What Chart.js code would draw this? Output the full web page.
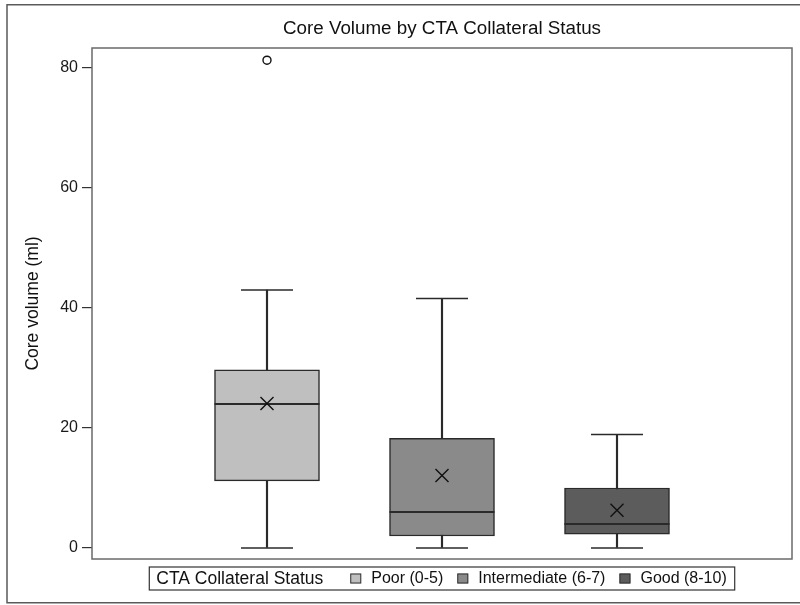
<!DOCTYPE html>
<html>
<head>
<meta charset="utf-8">
<style>
  html, body { margin: 0; padding: 0; background: #ffffff; }
  #wrap { width: 800px; height: 605px; }
</style>
<script src="https://cdn.jsdelivr.net/npm/chart.js@4/dist/chart.umd.min.js"></script>
</head>
<body>
<div id="wrap"><canvas id="c" width="800" height="605"></canvas></div>
<script>
// ---- Data ----
const chartTitle = 'Core Volume by CTA Collateral Status';
const yTitle = 'Core volume (ml)';
const legendTitle = 'CTA Collateral Status';
const categories = ['Poor (0-5)', 'Intermediate (6-7)', 'Good (8-10)'];
const xPositions = [1, 2, 3];
const whiskerLow = [0, 0, 0];
const q1Values = [11.2, 2.0, 2.3];
const medianValues = [24.0, 6.0, 4.0];
const q3Values = [29.7, 18.3, 10.0];
const whiskerHigh = [43.0, 41.6, 18.9];
const meanValues = [24.1, 12.1, 6.3];
const outlierValues = [[81.3], [], []];
const yTicks = [0, 20, 40, 60, 80];
const yMin = -1.83;
const yMax = 83.33;

// ---- Styles ----
const FONT = '"Liberation Sans", Arial, Helvetica, sans-serif';
const boxColors = ['#bfbfbf', '#8a8a8a', '#5c5c5c'];
const ink = '#2a2a2a';

Chart.defaults.font.family = FONT;
Chart.defaults.color = '#1a1a1a';

const frames = {
  id: 'frames',
  beforeDraw(chart) {
    const ctx = chart.ctx;
    ctx.save();
    ctx.strokeStyle = '#5a5a5a';
    ctx.lineWidth = 1.5;
    ctx.strokeRect(7, 4.75, chart.width + 10, 598);
    ctx.restore();
  },
  afterDraw(chart) {
    const ctx = chart.ctx;
    const a = chart.chartArea;
    ctx.save();
    ctx.strokeStyle = '#6a6a6a';
    ctx.lineWidth = 1.5;
    ctx.strokeRect(a.left, a.top, a.right - a.left, a.bottom - a.top);
    ctx.restore();
  }
};

const boxLegend = {
  id: 'boxLegend',
  afterDraw(chart) {
    const ctx = chart.ctx;
    const a = chart.chartArea;
    const titleFont = '17.5px ' + FONT;
    const itemFont = '16px ' + FONT;
    const padL = 7, padR = 8, titleGap = 27, sw = 11, swGap = 10, itemGap = 14, h = 23;
    ctx.save();
    ctx.font = titleFont;
    const tw = ctx.measureText(legendTitle).width;
    ctx.font = itemFont;
    const iw = categories.map(c => ctx.measureText(c).width);
    let total = padL + tw + titleGap + padR;
    iw.forEach((w, i) => { total += sw + swGap + w + (i < iw.length - 1 ? itemGap : 0); });
    const left = (a.left + a.right) / 2 - total / 2;
    const top = a.bottom + 8;
    const cy = top + h / 2;
    ctx.fillStyle = '#ffffff';
    ctx.fillRect(left, top, total, h);
    ctx.strokeStyle = '#333333';
    ctx.lineWidth = 1.2;
    ctx.strokeRect(left, top, total, h);
    ctx.textBaseline = 'middle';
    ctx.textAlign = 'left';
    ctx.fillStyle = '#111111';
    ctx.font = titleFont;
    let x = left + padL;
    ctx.fillText(legendTitle, x, cy + 0.5);
    x += tw + titleGap;
    ctx.font = itemFont;
    categories.forEach((c, i) => {
      ctx.fillStyle = boxColors[i];
      ctx.fillRect(x, cy - 5, sw, 10);
      ctx.strokeStyle = '#333333';
      ctx.lineWidth = 1;
      ctx.strokeRect(x + 0.5, cy - 4.5, sw - 1, 9);
      x += sw + swGap;
      ctx.fillStyle = '#111111';
      ctx.fillText(c, x, cy + 0.5);
      x += iw[i] + itemGap;
    });
    ctx.restore();
  }
};

const pts = (vals) => categories.map((c, i) => ({ x: xPositions[i], y: vals[i] }));
const outlierPts = [];
outlierValues.forEach((arr, i) => arr.forEach(v => outlierPts.push({ x: xPositions[i], y: v })));

const config = {
  type: 'bar',
  data: {
    datasets: [
      {
        type: 'bar', label: 'whiskers', order: 10, grouped: false,
        data: categories.map((c, i) => ({ x: xPositions[i], y: [whiskerLow[i], whiskerHigh[i]] })),
        backgroundColor: ink, borderWidth: 0, barThickness: 1.5
      },
      {
        type: 'bar', label: 'boxes', order: 9, grouped: false,
        data: categories.map((c, i) => ({ x: xPositions[i], y: [q1Values[i], q3Values[i]] })),
        backgroundColor: boxColors, borderColor: ink, borderWidth: 1.5, borderSkipped: false,
        barThickness: 105
      },
      {
        type: 'scatter', label: 'median', order: 5,
        data: pts(medianValues),
        pointStyle: 'line', pointRadius: 52.5, borderColor: ink, pointBorderWidth: 2
      },
      {
        type: 'scatter', label: 'capsHigh', order: 5,
        data: pts(whiskerHigh),
        pointStyle: 'line', pointRadius: 26, borderColor: ink, pointBorderWidth: 1.5
      },
      {
        type: 'scatter', label: 'capsLow', order: 5,
        data: pts(whiskerLow),
        pointStyle: 'line', pointRadius: 26, borderColor: ink, pointBorderWidth: 1.5
      },
      {
        type: 'scatter', label: 'mean', order: 2,
        data: pts(meanValues),
        pointStyle: 'crossRot', pointRadius: 9.2, borderColor: '#111111', pointBorderWidth: 1.4
      },
      {
        type: 'scatter', label: 'outliers', order: 1,
        data: outlierPts,
        pointStyle: 'circle', pointRadius: 4, backgroundColor: '#ffffff', borderColor: '#111111', pointBorderWidth: 1.4
      }
    ]
  },
  options: {
    responsive: false,
    animation: false,
    events: [],
    layout: { autoPadding: false, padding: { left: 0, top: 0, right: 8, bottom: 46 } },
    plugins: { legend: { display: false }, tooltip: { enabled: false }, title: { display: false } },
    scales: {
      x: {
        type: 'linear', position: 'top', min: 0, max: 4, offset: false,
        grid: { display: false }, border: { display: false },
        ticks: { display: false },
        title: { display: true, text: chartTitle, color: '#111111', font: { size: 18.8, family: FONT }, padding: { top: 18, bottom: 0 } },
        afterFit(s) { s.height = 48; }
      },
      y: {
        type: 'linear', min: yMin, max: yMax,
        afterBuildTicks(s) { s.ticks = yTicks.map(v => ({ value: v })); },
        grid: { display: true, drawOnChartArea: false, drawTicks: true, tickLength: 10, color: '#333333', lineWidth: 1.2 },
        border: { display: false },
        ticks: { color: '#1a1a1a', font: { size: 16, family: FONT }, padding: 4 },
        title: { display: true, text: yTitle, color: '#111111', font: { size: 17.5, family: FONT }, padding: { top: 23, bottom: 0 } },
        afterFit(s) { s.width = 92; }
      }
    }
  },
  plugins: [frames, boxLegend]
};

new Chart(document.getElementById('c'), config);
</script>
</body>
</html>
